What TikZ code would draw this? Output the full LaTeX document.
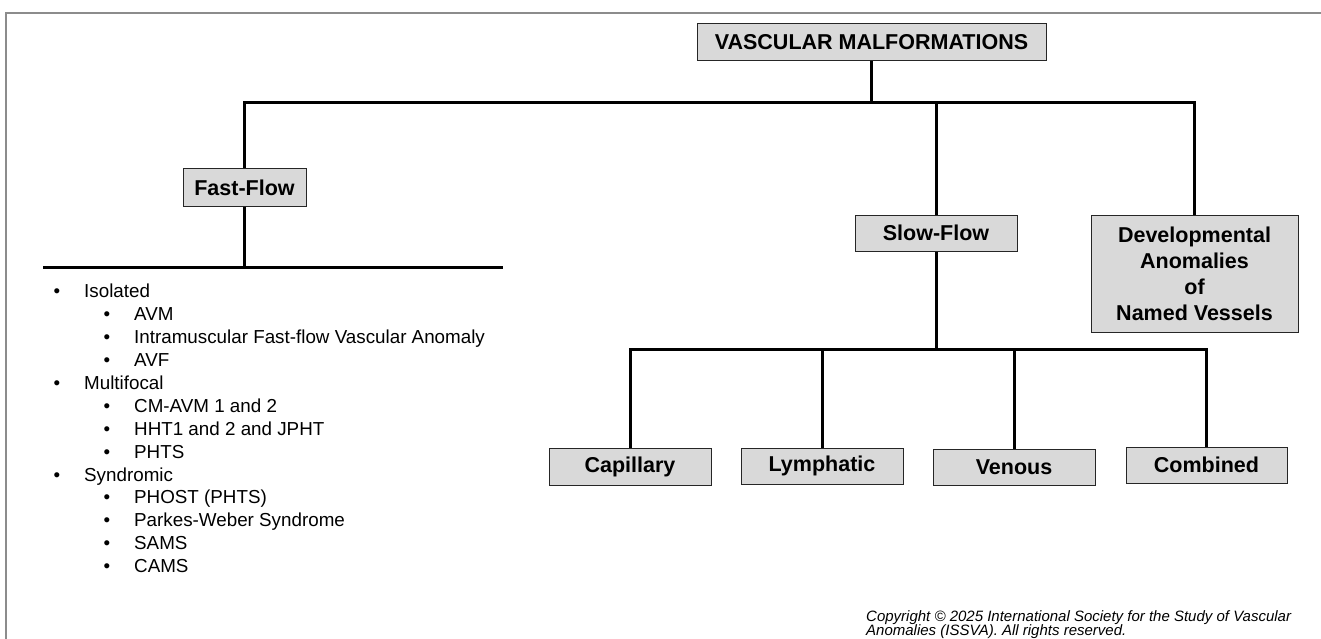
\documentclass[tikz,border=0pt]{standalone}
\usepackage{fontspec}
\setmainfont{Liberation Sans}
\definecolor{boxfill}{HTML}{D9D9D9}
\definecolor{framegray}{HTML}{8C8C8C}
\begin{document}
\begin{tikzpicture}[x=1pt,y=-1pt,
  box/.style={draw=black!85, line width=1pt, fill=boxfill, inner sep=0pt,
    minimum height=37pt, align=center,
    font=\fontsize{21.5}{26}\selectfont\bfseries},
  link/.style={line width=3pt, line join=miter},
  item/.style={anchor=base west, inner sep=0pt, font=\fontsize{18.8}{22.9}\selectfont},
  note/.style={anchor=base west, inner sep=0pt, font=\fontsize{15}{12}\selectfont\itshape}]
\useasboundingbox (0,0) rectangle (1321,639);
% frame
\draw[framegray, line width=2pt] (6,700) -- (6,13) -- (1340,13);
% boxes
\node[box, minimum width=349pt] (vm) at (871.5,42.5) {VASCULAR MALFORMATIONS};
\node[box, minimum width=123pt] (fast) at (244.5,187.5) {Fast-Flow};
\node[box, minimum width=162pt, minimum height=36pt] (slow) at (936,233) {Slow-Flow};
\node[box, minimum width=207pt, minimum height=117pt] (dev) at (1194.5,273.5) {Developmental\\Anomalies\\of\\Named Vessels};
\node[box, minimum width=162pt] (cap) at (630,466.5) {Capillary};
\node[box, minimum width=162pt, minimum height=36pt] (lym) at (822,466) {Lymphatic};
\node[box, minimum width=162pt, minimum height=36pt] (ven) at (1014,467) {Venous};
\node[box, minimum width=161pt, minimum height=36pt] (com) at (1206.5,465) {Combined};
% connectors
\coordinate (top) at (871.5,103);
\coordinate (mid) at (936,349);
\coordinate (ffl) at (43,267);
\coordinate (ffr) at (503,267);
\draw[link] (vm.south) -- (top);
\draw[link] (fast.north) |- (top) -| (dev.north);
\draw[link] (slow.north |- top) -- (slow.north);
\draw[link] (slow.south) -- (mid);
\draw[link] (cap.north) |- (mid) -| (com.north);
\draw[link] (lym.north |- mid) -- (lym.north);
\draw[link] (ven.north |- mid) -- (ven.north);
\draw[link] (fast.south) -- (fast.south |- ffl);
\draw[link] (ffl) -- (ffr);
% list
\node[item] (i1)  at (53.5,297.8)  {\makebox[30.5pt][l]{•}Isolated};
\node[item] (i2)  at (103.3,320.7) {\makebox[30.7pt][l]{•}AVM};
\node[item] (i3)  at (103.3,343.6) {\makebox[30.7pt][l]{•}Intramuscular Fast-flow Vascular Anomaly};
\node[item] (i4)  at (103.3,366.5) {\makebox[30.7pt][l]{•}AVF};
\node[item] (i5)  at (53.5,389.4)  {\makebox[30.5pt][l]{•}Multifocal};
\node[item] (i6)  at (103.3,412.3) {\makebox[30.7pt][l]{•}CM-AVM 1 and 2};
\node[item] (i7)  at (103.3,435.2) {\makebox[30.7pt][l]{•}HHT1 and 2 and JPHT};
\node[item] (i8)  at (103.3,458.1) {\makebox[30.7pt][l]{•}PHTS};
\node[item] (i9)  at (53.5,481.0)  {\makebox[30.5pt][l]{•}Syndromic};
\node[item] (i10) at (103.3,503.9) {\makebox[30.7pt][l]{•}PHOST (PHTS)};
\node[item] (i11) at (103.3,526.8) {\makebox[30.7pt][l]{•}Parkes-Weber Syndrome};
\node[item] (i12) at (103.3,549.7) {\makebox[30.7pt][l]{•}SAMS};
\node[item] (i13) at (103.3,572.6) {\makebox[30.7pt][l]{•}CAMS};
% copyright
\node[note] (cr1) at (866,621) {Copyright © 2025 International Society for the Study of Vascular};
\node[note] (cr2) at (866,635) {Anomalies (ISSVA). All rights reserved.};
\end{tikzpicture}
\end{document}
